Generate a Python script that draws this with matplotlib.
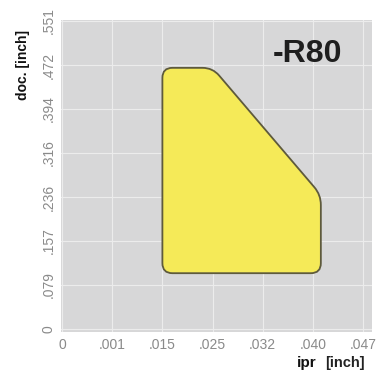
import numpy as np
import matplotlib
matplotlib.use('Agg')
import matplotlib.pyplot as plt
from matplotlib.path import Path
from matplotlib.patches import PathPatch

# axis tick labels (evenly spaced, non-linear values)
ipr_ticks = [0, 0.001, 0.015, 0.025, 0.032, 0.040, 0.047]
ipr_labels = ['0', '.001', '.015', '.025', '.032', '.040', '.047']
doc_ticks = [0, 0.079, 0.157, 0.236, 0.316, 0.394, 0.472, 0.551]
doc_labels = ['0', '.079', '.157', '.236', '.316', '.394', '.472', '.551']

# chipbreaker application area -R80 (corner points, inch)
area_ipr = [0.015, 0.025, 0.0411, 0.0411, 0.015]
area_doc = [0.467, 0.467, 0.240, 0.100, 0.100]

# map real values to even tick positions
def to_pos(v, ticks):
    return np.interp(v, ticks, np.arange(len(ticks)))

px = to_pos(area_ipr, ipr_ticks)
py = to_pos(area_doc, doc_ticks)

def rounded_path(xs, ys, r, sx, sy):
    # round each corner, distances measured in approx pixel units
    n = len(xs)
    pts = np.column_stack([np.asarray(xs) * sx, np.asarray(ys) * sy])
    verts, codes = [], []
    for i in range(n):
        p0, p1, p2 = pts[i - 1], pts[i], pts[(i + 1) % n]
        d1 = (p0 - p1) / np.linalg.norm(p0 - p1)
        d2 = (p2 - p1) / np.linalg.norm(p2 - p1)
        a = p1 + d1 * r
        b = p1 + d2 * r
        if i == 0:
            verts.append(a); codes.append(Path.MOVETO)
        else:
            verts.append(a); codes.append(Path.LINETO)
        verts += [p1, b]
        codes += [Path.CURVE3, Path.CURVE3]
    verts.append(verts[0]); codes.append(Path.CLOSEPOLY)
    verts = np.array(verts) / np.array([sx, sy])
    return Path(verts, codes)

fig = plt.figure(figsize=(3.79, 3.80), dpi=100)
ax = fig.add_axes([0.161, 0.126, 0.821, 0.821])
ax.set_facecolor('#d7d7d8')

ax.set_xlim(-0.02, 6.18)
ax.set_ylim(-0.07, 7.02)
ax.set_xticks(range(len(ipr_ticks)))
ax.set_xticklabels(ipr_labels)
ax.set_yticks(range(len(doc_ticks)))
ax.set_yticklabels(doc_labels, rotation=90, va='center')
ax.tick_params(length=0, colors='#8a8a8a', labelsize=10, pad=4)
for lab in ax.get_xticklabels() + ax.get_yticklabels():
    lab.set_family('Liberation Sans')
ax.grid(True, color='#ececec', linewidth=0.8)
ax.set_axisbelow(True)
for s in ax.spines.values():
    s.set_visible(False)

path = rounded_path(px, py, 10, 50.3, 44)
ax.add_patch(PathPatch(path, facecolor='#f5ea58', edgecolor='#5e5a3c',
                       linewidth=1.3, zorder=3))

ax.text(4.9, 6.25, '-R80', fontsize=23, fontweight='bold', color='#1e1e1e',
        ha='center', va='center', family='Liberation Sans')

fig.text(0.062, 0.83, 'doc. [inch]', rotation=90, ha='center', va='center',
         fontsize=10, fontweight='bold', family='Liberation Sans', color='#111111')
fig.text(0.835, 0.045, 'ipr', ha='right', va='center', fontsize=11,
         fontweight='bold', family='Liberation Sans', color='#111111')
fig.text(0.858, 0.045, '[inch]', ha='left', va='center', fontsize=10.5,
         fontweight='bold', family='Liberation Sans', color='#222222')

fig.savefig('out.png', dpi=100, facecolor='white')
